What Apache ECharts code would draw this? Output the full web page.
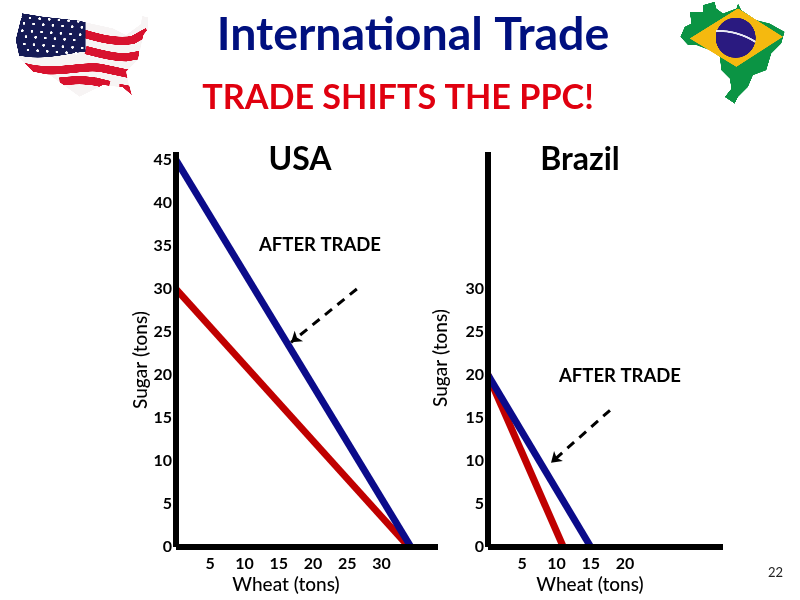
<!DOCTYPE html>
<html lang="en">
<head>
	<meta charset="UTF-8">
	<title>International Trade</title>
	<script src="https://cdn.jsdelivr.net/npm/echarts@6/dist/echarts.min.js"></script>
	<style>
		html, body { margin: 0; padding: 0; background: #fff; }
		#main { width: 800px; height: 600px; }
	</style>
</head>
<body>
<div id="main"></div>
<script>
// USA, [wheat, sugar]
var usaBefore = [[0, 30], [34, 0]];
var usaAfter = [[0, 45], [34.3, 0]];
var usaSugarTicks = [0, 5, 10, 15, 20, 25, 30, 35, 40, 45];
var usaWheatTicks = [5, 10, 15, 20, 25, 30];
var usaArrow = [[26.4, 30], [16.8, 23.8]];

// Brazil, [wheat, sugar]
var brazilBefore = [[0, 20], [11, 0]];
var brazilAfter = [[0, 20], [15, 0]];
var brazilSugarTicks = [0, 5, 10, 15, 20, 25, 30];
var brazilWheatTicks = [5, 10, 15, 20];
var brazilArrow = [[17.8, 15.9], [9.2, 9.8]];

var FONT = 'Lato, "Open Sans", sans-serif';
var BLUE = '#0b0b8a';
var RED = '#c00000';

// map flags, painted on a canvas and placed as images
function outline(ctx, pts) {
	ctx.beginPath();
	pts.forEach(function (p, i) {
		if (i == 0) ctx.moveTo(p[0], p[1]);
		else ctx.lineTo(p[0], p[1]);
	});
	ctx.closePath();
}

function usaFlag() {
	var c = document.createElement('canvas');
	c.width = 460; c.height = 300;
	var ctx = c.getContext('2d');
	ctx.translate(-40, -30);
	outline(ctx, [[68,40],[130,50],[240,62],[262,68],[340,85],[380,105],[425,72],[428,48],[445,52],[447,85],[432,105],[415,180],[380,215],[385,240],[397,285],[370,262],[310,255],[240,290],[185,250],[150,225],[100,215],[60,175],[48,120]]);
	ctx.clip();
	ctx.fillStyle = '#f7f4f4';
	ctx.fillRect(0, 0, 500, 340);
	// stripes
	ctx.strokeStyle = '#d8122e';
	ctx.lineWidth = 25;
	[
		[250, 100, 300, 115, 350, 128, 400, 120, 445, 95],
		[258, 150, 300, 160, 340, 172, 380, 172, 420, 165],
		[70, 200, 170, 228, 250, 192, 310, 205, 390, 222],
		[180, 245, 240, 238, 250, 240, 290, 245, 330, 255],
		[360, 265, 375, 265, 380, 268, 390, 270, 400, 290]
	].forEach(function (s) {
		ctx.beginPath();
		ctx.moveTo(s[0], s[1]);
		ctx.bezierCurveTo(s[2], s[3], s[4], s[5], s[6], s[7]);
		ctx.lineTo(s[8], s[9]);
		ctx.stroke();
	});
	// canton
	ctx.fillStyle = '#151a55';
	ctx.beginPath();
	ctx.moveTo(40, 30);
	ctx.lineTo(258, 50);
	ctx.lineTo(258, 155);
	ctx.bezierCurveTo(200, 160, 130, 185, 50, 165);
	ctx.closePath();
	ctx.fill();
	ctx.fillStyle = '#fff';
	for (var row = 0; row < 6; row++) {
		for (var col = 0; col < 7; col++) {
			var x = 62 + col * 29 + (row % 2) * 8 + row * 3;
			var y = 52 + row * 20 + col * 2 - (row % 2) * 2;
			if (x > 250) continue;
			ctx.beginPath();
			ctx.arc(x, y, 4, 0, Math.PI * 2);
			ctx.fill();
		}
	}
	return c;
}

function brazilFlag() {
	var c = document.createElement('canvas');
	c.width = 330; c.height = 320;
	var ctx = c.getContext('2d');
	ctx.translate(-55, 0);
	outline(ctx, [[62,110],[75,80],[95,70],[90,35],[130,35],[130,15],[165,5],[170,25],[190,40],[230,25],[235,10],[245,30],[290,60],[330,70],[375,95],[365,130],[335,160],[320,210],[280,225],[265,260],[235,290],[225,310],[195,290],[215,265],[210,235],[185,210],[180,170],[150,150],[110,135],[85,135]]);
	ctx.fillStyle = '#0b9444';
	ctx.fill();
	outline(ctx, [[90,115],[235,25],[370,110],[230,200]]);
	ctx.fillStyle = '#f5b90f';
	ctx.fill();
	ctx.beginPath();
	ctx.arc(228, 113, 60, 0, Math.PI * 2);
	ctx.fillStyle = '#2a1a80';
	ctx.fill();
	ctx.strokeStyle = '#e8e8f4';
	ctx.lineWidth = 6;
	ctx.beginPath();
	ctx.moveTo(170, 92);
	ctx.quadraticCurveTo(235, 92, 287, 125);
	ctx.stroke();
	return c;
}

function axisText(text, x, y, rotated) {
	return {
		type: 'text',
		x: x,
		y: y,
		rotation: rotated ? Math.PI / 2 : 0,
		style: {
			text: text,
			font: '500 19px ' + FONT,
			fill: '#000',
			align: 'center',
			verticalAlign: 'middle'
		}
	};
}

function titleText(text, x, y, size, color) {
	return {
		type: 'text',
		x: x,
		y: y,
		style: {
			text: text,
			font: 'bold ' + size + 'px ' + FONT,
			fill: color,
			align: 'center',
			verticalAlign: 'middle'
		}
	};
}

function makeXAxis(index, max, ticks) {
	return {
		type: 'value',
		gridIndex: index,
		min: 0,
		max: max,
		z: 5,
		splitLine: { show: false },
		axisLine: { onZero: false, lineStyle: { color: '#000', width: 6, cap: 'butt' } },
		axisTick: { show: false },
		axisLabel: {
			customValues: ticks,
			margin: 9,
			color: '#000',
			fontFamily: FONT,
			fontWeight: 'bold',
			fontSize: 16
		}
	};
}

function makeYAxis(index, max, ticks) {
	return {
		type: 'value',
		gridIndex: index,
		min: 0,
		max: max,
		z: 5,
		splitLine: { show: false },
		axisLine: { show: true, onZero: false, lineStyle: { color: '#000', width: 6, cap: 'butt' } },
		axisTick: { show: false },
		axisLabel: {
			customValues: ticks,
			margin: 4,
			color: '#000',
			fontFamily: FONT,
			fontWeight: 'bold',
			fontSize: 16
		}
	};
}

function makeLine(name, index, data, color, arrow) {
	var s = {
		name: name,
		type: 'line',
		xAxisIndex: index,
		yAxisIndex: index,
		data: data,
		showSymbol: false,
		silent: true,
		animation: false,
		z: 3,
		lineStyle: { color: color, width: 7, cap: 'butt' }
	};
	if (arrow) {
		s.markLine = {
			silent: true,
			animation: false,
			symbol: ['none', 'arrow'],
			symbolSize: 10,
			label: { show: false },
			lineStyle: { color: '#000', width: 3, type: [9, 7] },
			data: [[{ coord: arrow[0] }, { coord: arrow[1] }]]
		};
	}
	return s;
}

var chart = echarts.init(document.getElementById('main'));
var option = {
	backgroundColor: '#fff',
	animation: false,
	grid: [
		{ left: 176, top: 152, width: 262, height: 395 },
		{ left: 488, top: 152, width: 235, height: 395 }
	],
	xAxis: [
		makeXAxis(0, 38.25, usaWheatTicks),
		makeXAxis(1, 34.3, brazilWheatTicks)
	],
	yAxis: [
		makeYAxis(0, 45.93, usaSugarTicks),
		makeYAxis(1, 45.93, brazilSugarTicks)
	],
	series: [
		makeLine('USA before', 0, usaBefore, RED),
		makeLine('USA after', 0, usaAfter, BLUE, usaArrow),
		makeLine('Brazil before', 1, brazilBefore, RED),
		makeLine('Brazil after', 1, brazilAfter, BLUE, brazilArrow)
	],
	graphic: [
		titleText('International Trade', 413, 35, 46.5, '#00107f'),
		titleText('TRADE SHIFTS THE PPC!', 398, 98, 34.2, '#e0000f'),
		titleText('USA', 300, 160, 32, '#000'),
		titleText('Brazil', 580, 160, 32, '#000'),
		titleText('AFTER TRADE', 320, 245, 18.5, '#000'),
		titleText('AFTER TRADE', 620, 376, 18.5, '#000'),
		axisText('Sugar (tons)', 141, 360, true),
		axisText('Sugar (tons)', 441, 358, true),
		axisText('Wheat (tons)', 286, 585, false),
		axisText('Wheat (tons)', 590, 585, false),
		{
			type: 'text', x: 783, y: 573,
			style: { text: '22', font: '13px ' + FONT, fill: '#222', align: 'right', verticalAlign: 'middle' }
		},
		{ type: 'image', x: 13, y: 10, style: { image: usaFlag(), width: 153, height: 100 } },
		{ type: 'image', x: 678, y: 0, style: { image: brazilFlag(), width: 110, height: 107 } }
	]
};
chart.setOption(option);
</script>
</body>
</html>
